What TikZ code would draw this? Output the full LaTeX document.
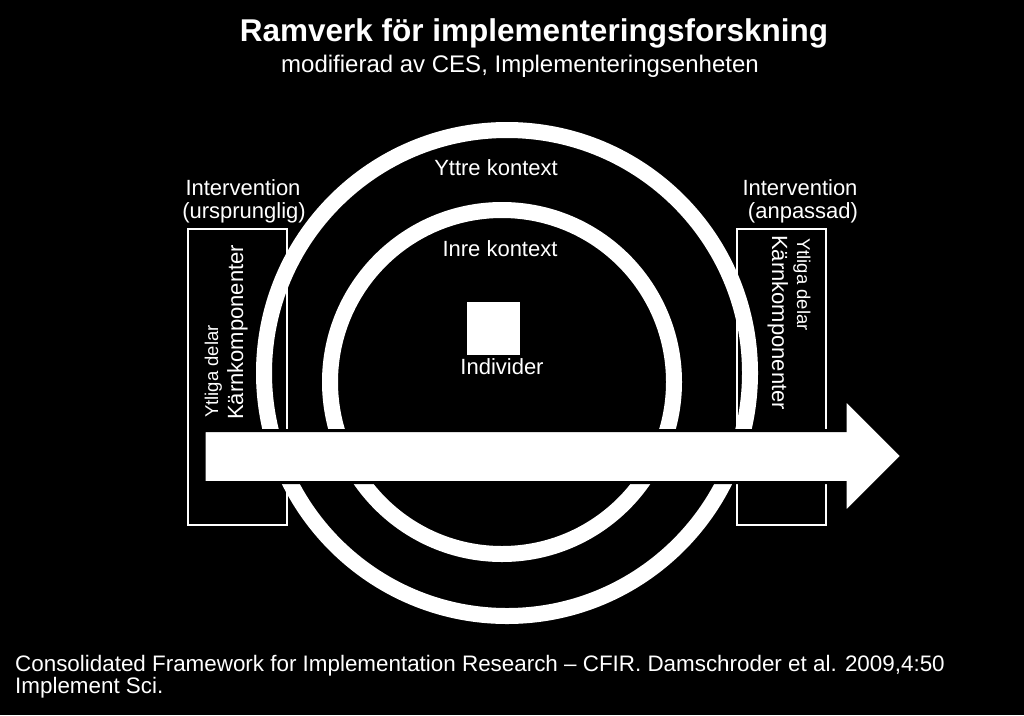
\documentclass[tikz,border=0pt]{standalone}
\usepackage{fontspec}
\setmainfont{Liberation Sans}
\usepackage{tikz}

\begin{document}
\begin{tikzpicture}[x=1pt, y=1pt,
    lbl/.style={text=white, inner sep=0pt, font=\fontsize{22}{24}\selectfont},
    ring/.style={draw=white, line width=16pt},
    box/.style={draw=white, line width=2pt}]
    \fill[black] (0,0) rectangle (1024,-715);
    \useasboundingbox (0,0) rectangle (1024,-715);

    \node[lbl, anchor=base, font=\bfseries\fontsize{31.5}{34}\selectfont] (title) at (534,-41) {Ramverk för implementeringsforskning};
    \node[lbl, anchor=base, font=\fontsize{24}{26}\selectfont] (subtitle) at (520,-72) {modifierad av CES, Implementeringsenheten};

    % contexts
    \draw[ring] (507,-373) circle (243);
    \draw[ring] (502,-382) circle (172);
    \node[lbl, anchor=base] (outer) at (496,-175) {Yttre kontext};
    \node[lbl, anchor=base] (inner) at (500,-256) {Inre kontext};
    \node[fill=white, minimum size=53pt, inner sep=0pt] (indsq) at (493,-328) {};
    \node[lbl, anchor=base] (indiv) at (502,-374) {Individer};

    % interventions
    \draw[box] (188,-229) rectangle (287,-525);
    \draw[box] (737,-229) rectangle (826,-525);
    \node[lbl, anchor=base] (origA) at (243,-195) {Intervention};
    \node[lbl, anchor=base] (origB) at (244,-218) {(ursprunglig)};
    \node[lbl, anchor=base] (adapA) at (800,-195) {Intervention};
    \node[lbl, anchor=base] (adapB) at (803,-218) {(anpassad)};
    \node[lbl, rotate=90, anchor=base west] (coreL) at (243,-420) {Kärnkomponenter};
    \node[lbl, rotate=90, anchor=base west, font=\fontsize{18.5}{20}\selectfont] (surfL) at (218,-418) {Ytliga delar};
    \node[lbl, rotate=-90, anchor=base west] (coreR) at (772,-235) {Kärnkomponenter};
    \node[lbl, rotate=-90, anchor=base west, font=\fontsize{18.5}{20}\selectfont] (surfR) at (797,-238) {Ytliga delar};

    % process arrow
    \filldraw[fill=white, draw=black, line width=3pt] (204,-430.5) -- (845,-430.5) -- (845,-399)
        -- (902,-456) -- (845,-513) -- (845,-482.5) -- (204,-482.5) -- cycle;

    \node[lbl, anchor=base west, font=\fontsize{22.4}{24}\selectfont] (citeA) at (15,-671) {Consolidated Framework for Implementation Research – CFIR. Damschroder et al. 2009,4:50};
    \node[lbl, anchor=base west, font=\fontsize{22.4}{24}\selectfont] (citeB) at (15,-693) {Implement Sci.};
\end{tikzpicture}
\end{document}
